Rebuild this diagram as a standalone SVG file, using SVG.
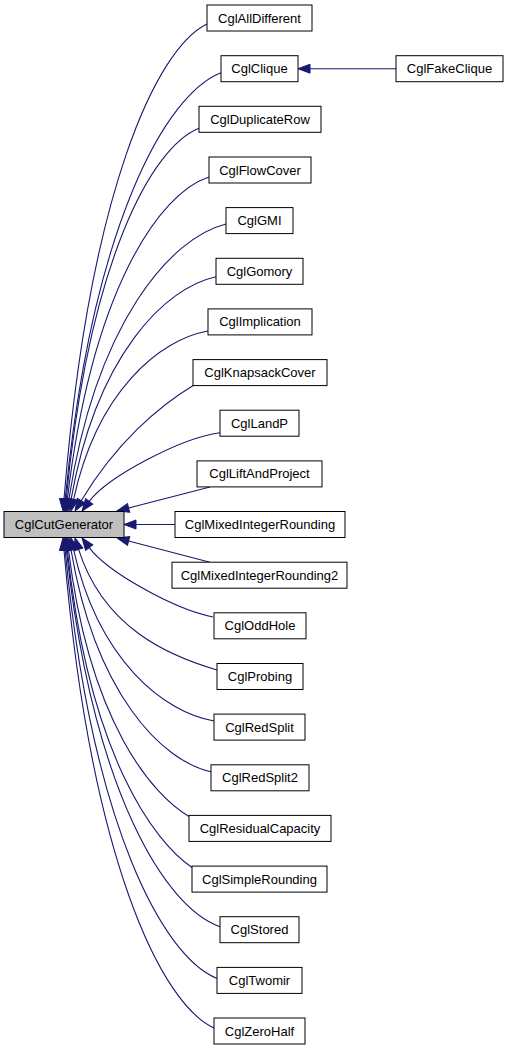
<svg xmlns="http://www.w3.org/2000/svg" width="508" height="1051" viewBox="0 0 508 1051">
<style>
.n rect{fill:#ffffff;stroke:#000000;stroke-width:1}
.root rect{fill:#bfbfbf;stroke:#000000;stroke-width:1}
text{font-family:"Liberation Sans",Arial,Helvetica,sans-serif;font-size:13px;fill:#000000;text-anchor:middle}
.e path{fill:none;stroke:#191970;stroke-width:1.1;marker-end:url(#ah)}
</style>
<defs>
<marker id="ah" markerUnits="userSpaceOnUse" viewBox="0 -5 12 10" refX="0" refY="0" markerWidth="12" markerHeight="10" orient="auto" overflow="visible">
<path d="M0,-4.5 L12,0 L0,4.5 Z" fill="#191970" stroke="#191970" stroke-width="1"/>
</marker>
</defs>
<rect width="508" height="1051" fill="#ffffff"/>
<g id="connectors" class="e">
<path d="M207,24 C157,48 89,190 64,499"/>
<path d="M221,72.7 C166.4,94 92.5,221.9 65.2,499.1"/>
<path d="M396,68.7 L310,68.7"/>
<path d="M199,128.3 C152.4,146.8 89.5,258.1 66.2,499.1"/>
<path d="M209,177 C159.3,193.1 92.3,289.1 67.4,499.1"/>
<path d="M226,224 C170.7,237.8 96.6,322 68.9,499.1"/>
<path d="M216,276.7 C164.9,287.8 96.7,355.1 71.1,499.2"/>
<path d="M208,331 C160.4,339.4 97.4,389.9 73.6,499.3"/>
<path d="M194,385 C159,406 116.2,442.7 81.2,500.7"/>
<path d="M220,432.7 C180,438 107.2,477.4 89.2,501.4"/>
<path d="M210,487 L128.6,508"/>
<path d="M175,524.5 L136,524.5"/>
<path d="M210,562.2 L128.6,541"/>
<path d="M213,617 C173,609 107.2,571.6 89.2,547.6"/>
<path d="M217,670 C167.6,655.6 103.3,627.4 78.6,549.4"/>
<path d="M214,721 C164.3,712.5 98.5,660.9 73.6,549.7"/>
<path d="M211,771.8 C161.6,760.7 95.7,694 71,549.8"/>
<path d="M189,816.5 C152.7,795.2 89.7,723.1 68.5,549.9"/>
<path d="M192,867.5 C154.5,842.1 89.2,756.3 67.3,549.9"/>
<path d="M220,926.7 C166.1,907.9 93.3,794.8 66.3,549.9"/>
<path d="M217,978.4 C163.8,957 91.7,828.4 65.1,549.9"/>
<path d="M214,1028 C161.5,1004.1 90.3,860.7 64,550"/>
</g>
<g id="CglCutGenerator" class="root"><rect x="4" y="511.5" width="120" height="26"/><text x="64" y="529">CglCutGenerator</text></g>
<g id="CglAllDifferent" class="n"><rect x="207" y="5" width="105" height="26"/><text x="259.5" y="22.5">CglAllDifferent</text></g>
<g id="CglClique" class="n"><rect x="221" y="55.7" width="77" height="26"/><text x="259.5" y="73.2">CglClique</text></g>
<g id="CglFakeClique" class="n"><rect x="396" y="55.7" width="107" height="26"/><text x="449.5" y="73.2">CglFakeClique</text></g>
<g id="CglDuplicateRow" class="n"><rect x="199" y="106.3" width="122" height="26"/><text x="260" y="123.8">CglDuplicateRow</text></g>
<g id="CglFlowCover" class="n"><rect x="209" y="157" width="102" height="26"/><text x="260" y="174.5">CglFlowCover</text></g>
<g id="CglGMI" class="n"><rect x="226" y="207.6" width="67" height="26"/><text x="259.5" y="225.1">CglGMI</text></g>
<g id="CglGomory" class="n"><rect x="216" y="258.3" width="87" height="26"/><text x="259.5" y="275.8">CglGomory</text></g>
<g id="CglImplication" class="n"><rect x="208" y="308.9" width="104" height="26"/><text x="260" y="326.4">CglImplication</text></g>
<g id="CglKnapsackCover" class="n"><rect x="193" y="359.6" width="134" height="26"/><text x="260" y="377.1">CglKnapsackCover</text></g>
<g id="CglLandP" class="n"><rect x="220" y="410.2" width="79" height="26"/><text x="259.5" y="427.7">CglLandP</text></g>
<g id="CglLiftAndProject" class="n"><rect x="197" y="460.9" width="125" height="26"/><text x="259.5" y="478.4">CglLiftAndProject</text></g>
<g id="CglMixedIntegerRounding" class="n"><rect x="175" y="511.5" width="170" height="26"/><text x="260" y="529">CglMixedIntegerRounding</text></g>
<g id="CglMixedIntegerRounding2" class="n"><rect x="172" y="562.2" width="175" height="26"/><text x="259.5" y="579.7">CglMixedIntegerRounding2</text></g>
<g id="CglOddHole" class="n"><rect x="214" y="612.8" width="92" height="26"/><text x="260" y="630.3">CglOddHole</text></g>
<g id="CglProbing" class="n"><rect x="217" y="663.5" width="86" height="26"/><text x="260" y="681">CglProbing</text></g>
<g id="CglRedSplit" class="n"><rect x="214" y="714.1" width="91" height="26"/><text x="259.5" y="731.6">CglRedSplit</text></g>
<g id="CglRedSplit2" class="n"><rect x="211" y="764.8" width="98" height="26"/><text x="260" y="782.3">CglRedSplit2</text></g>
<g id="CglResidualCapacity" class="n"><rect x="189" y="815.4" width="142" height="26"/><text x="260" y="832.9">CglResidualCapacity</text></g>
<g id="CglSimpleRounding" class="n"><rect x="192" y="866.1" width="135" height="26"/><text x="259.5" y="883.6">CglSimpleRounding</text></g>
<g id="CglStored" class="n"><rect x="220" y="916.7" width="79" height="26"/><text x="259.5" y="934.2">CglStored</text></g>
<g id="CglTwomir" class="n"><rect x="217" y="967.4" width="85" height="26"/><text x="259.5" y="984.9">CglTwomir</text></g>
<g id="CglZeroHalf" class="n"><rect x="214" y="1018" width="91" height="26"/><text x="259.5" y="1035.5">CglZeroHalf</text></g>
</svg>
